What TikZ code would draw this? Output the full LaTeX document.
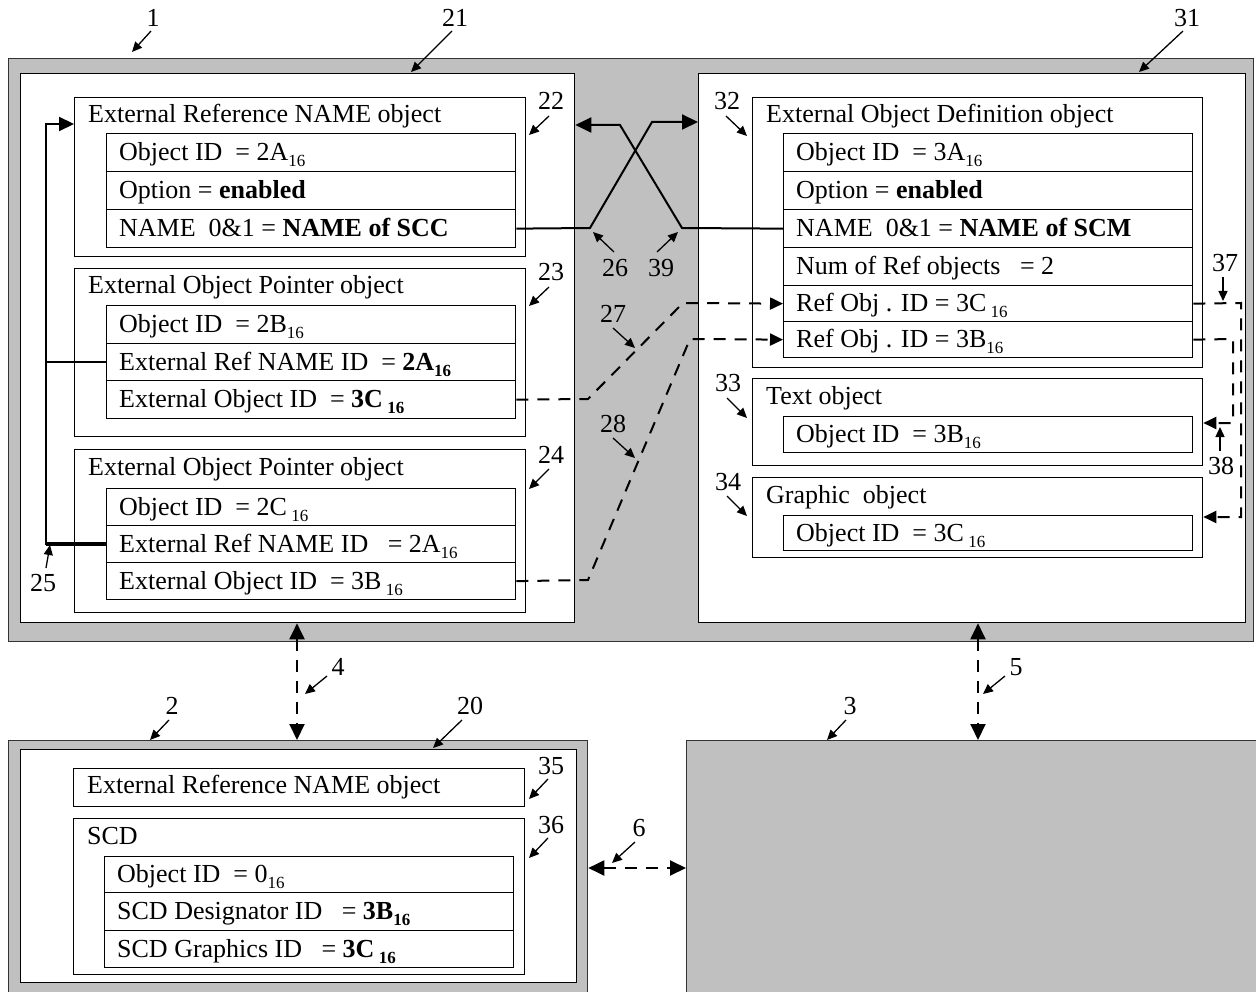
\documentclass[tikz,border=0pt]{standalone}
\usepackage{fontspec}
\setmainfont{Liberation Serif}
\usetikzlibrary{arrows.meta,calc}
\definecolor{gbg}{RGB}{192,192,192}
\newcommand\subs[1]{\raisebox{-6pt}{\fontsize{17}{17}\selectfont #1}}
\newcommand\objbox[6]{%
  \node[box, minimum width=#4pt, minimum height=#5pt] (#1) at (#2,#3) {};
  \node[txt] (#1-t) at ($(#1.north west)+(14,26)$) {#6};}
\newcommand\rowbox[6]{%
  \node[box, minimum width=#4pt, minimum height=#5pt] (#1) at (#2,#3) {};
  \node[txt] (#1-t) at ($(#1.west)+(13,8)$) {#6};}
\begin{document}
\begin{tikzpicture}[x=1pt,y=-1pt,
  box/.style={draw=black, line width=1.3pt, fill=white, inner sep=0pt, anchor=north west},
  gbox/.style={draw=black!80, line width=1.3pt, fill=gbg, inner sep=0pt, anchor=north west},
  txt/.style={inner sep=0pt, anchor=base west, font=\fontsize{26}{30}\selectfont},
  lbl/.style={inner sep=0pt, font=\fontsize{26}{30}\selectfont},
  larr/.style={line width=1.3pt, -{Triangle[length=10pt,width=9pt]}},
  conn/.style={line width=2pt},
  dconn/.style={line width=2pt, dash pattern=on 12pt off 9pt},
  bigtip/.style={-{Triangle[length=16pt,width=15pt]}},
  midtip/.style={-{Triangle[length=13pt,width=12pt]}},
  dbltip/.style={{Triangle[length=16pt,width=15pt]}-{Triangle[length=16pt,width=15pt]}},
]
\useasboundingbox (0,0) rectangle (1256,992);

% gray containers
\node[gbox, minimum width=1245pt, minimum height=583pt] (g1) at (8,58) {};
\node[gbox, minimum width=579pt, minimum height=270pt] (g2) at (8,740) {};
\node[gbox, minimum width=590pt, minimum height=270pt] (g3) at (686,740) {};

% white containers
\node[box, minimum width=554pt, minimum height=549pt] (b21) at (20,73) {};
\node[box, minimum width=547pt, minimum height=549pt] (b31) at (698,73) {};
\node[box, minimum width=556pt, minimum height=233pt] (b20) at (20,749) {};

% box 22
\objbox{b22}{74}{97}{451}{159}{External Reference NAME object}
\rowbox{r22a}{106}{133}{409}{38}{Object ID~ = 2A\subs{16}}
\rowbox{r22b}{106}{171}{409}{38}{Option = \textbf{enabled}}
\rowbox{r22c}{106}{209}{409}{38}{NAME~ 0\&1 = \textbf{NAME of SCC}}

% box 23
\objbox{b23}{74}{268}{451}{168}{External Object Pointer object}
\rowbox{r23a}{106}{305}{409}{38}{Object ID~ = 2B\subs{16}}
\rowbox{r23b}{106}{343}{409}{37}{External Ref NAME ID~ = \textbf{2A\subs{16}}}
\rowbox{r23c}{106}{380}{409}{38}{External Object ID~ = \textbf{3C\,\subs{16}}}

% box 24
\objbox{b24}{74}{449}{451}{163}{External Object Pointer object}
\rowbox{r24a}{106}{488}{409}{37}{Object ID~ = 2C\,\subs{16}}
\rowbox{r24b}{106}{525}{409}{37}{External Ref NAME ID~~ = 2A\subs{16}}
\rowbox{r24c}{106}{562}{409}{37}{External Object ID~ = 3B\,\subs{16}}

% box 32
\objbox{b32}{752}{97}{450}{270}{External Object Definition object}
\rowbox{r32a}{783}{133}{409}{38}{Object ID~ = 3A\subs{16}}
\rowbox{r32b}{783}{171}{409}{38}{Option = \textbf{enabled}}
\rowbox{r32c}{783}{209}{409}{38}{NAME~ 0\&1 = \textbf{NAME of SCM}}
\rowbox{r32d}{783}{247}{409}{38}{Num of Ref objects~~ = 2}
\rowbox{r32e}{783}{285}{409}{36}{Ref Obj . ID = 3C\,\subs{16}}
\rowbox{r32f}{783}{321}{409}{36}{Ref Obj . ID = 3B\subs{16}}

% box 33, 34
\objbox{b33}{752}{378}{450}{87}{Text object}
\rowbox{r33a}{783}{416}{409}{36}{Object ID~ = 3B\subs{16}}
\objbox{b34}{752}{477}{450}{80}{Graphic~ object}
\rowbox{r34a}{783}{515}{409}{35}{Object ID~ = 3C\,\subs{16}}

% box 35, 36
\node[box, minimum width=451pt, minimum height=38pt] (b35) at (73,768) {};
\node[txt] (b35-t) at ($(b35.north west)+(14,25)$) {External Reference NAME object};
\objbox{b36}{73}{818}{451}{156}{SCD}
\rowbox{r36a}{104}{856}{409}{36}{Object ID~ = 0\subs{16}}
\rowbox{r36b}{104}{892}{409}{38}{SCD Designator ID~~ = \textbf{3B\subs{16}}}
\rowbox{r36c}{104}{930}{409}{37}{SCD Graphics ID~~ = \textbf{3C\,\subs{16}}}

% link 25
\coordinate (k25) at (46,0);
\draw[line width=2.2pt, -{Triangle[length=15pt,width=14pt]}] (r24b.west) -- (r24b.west -| k25) -- (k25 |- 0,124) -- (b22.west |- 0,124);
\draw[line width=4pt] (r24b.west) -- (r24b.west -| k25);
\draw[line width=1.5pt] (r23b.west) -- (r23b.west -| k25);

% crossing links 26 / 39
\draw[conn, bigtip] (r22c.east) -- (590,228) -- (652,122) -- (b31.west |- 0,122);
\draw[conn, bigtip] (r32c.west) -- (682,228) -- (620,125) -- (b21.east |- 0,125);

% dashed links 27 / 28
\draw[dconn, midtip] (r23c.east) -- (588,399) -- (683,303) -- (r32e.west);
\draw[dconn, midtip] (r24c.east) -- (588,580) -- (690,339) -- (r32f.west);

% dashed links 37 / 38
\draw[dconn, midtip] (r32e.east) -- (1241,303) -- (1241,517) -- (b34.east |- 0,517);
\draw[dconn, midtip] (r32f.east) -- (1233,339) -- (1233,423) -- (b33.east |- 0,423);

% links 4, 5, 6
\draw[dconn, dbltip] (b21.south -| 297,0) -- (g2.north -| 297,0);
\draw[dconn, dbltip] (b31.south -| 978,0) -- (g3.north -| 978,0);
\draw[dconn, dbltip] (g2.east |- 0,868) -- (g3.west |- 0,868);

% reference labels
\node[lbl] (l1) at (153,18) {1};
\draw[larr] (151,31) -- (132,52);
\node[lbl] (l21) at (455,18) {21};
\draw[larr] (452,31) -- (411,72);
\node[lbl] (l31) at (1187,18) {31};
\draw[larr] (1183,31) -- (1139,72);
\node[lbl] (l22) at (551,101) {22};
\draw[larr] (549,116) -- (529,135);
\node[lbl] (l23) at (551,272) {23};
\draw[larr] (549,287) -- (529,306);
\node[lbl] (l24) at (551,455) {24};
\draw[larr] (549,469) -- (529,489);
\node[lbl] (l32) at (727,101) {32};
\draw[larr] (726,116) -- (747,136);
\node[lbl] (l33) at (728,383) {33};
\draw[larr] (727,398) -- (747,418);
\node[lbl] (l34) at (728,482) {34};
\draw[larr] (727,496) -- (747,516);
\node[lbl] (l27) at (613,314) {27};
\draw[larr] (613,328) -- (635,348);
\node[lbl] (l28) at (613,424) {28};
\draw[larr] (613,438) -- (635,458);
\node[lbl] (l26) at (615,268) {26};
\draw[larr] (614,252) -- (593,232);
\node[lbl] (l39) at (661,268) {39};
\draw[larr] (657,252) -- (678,232);
\node[lbl] (l25) at (43,583) {25};
\draw[larr] (46,568) -- (50,545);
\node[lbl] (l37) at (1225,263) {37};
\draw[larr] (1223,277) -- (1223,301);
\node[lbl] (l38) at (1221,466) {38};
\draw[larr] (1220,451) -- (1220,427);
\node[lbl] (l4) at (338,667) {4};
\draw[larr] (327,676) -- (305,694);
\node[lbl] (l5) at (1016,667) {5};
\draw[larr] (1005,676) -- (983,694);
\node[lbl] (l2) at (172,706) {2};
\draw[larr] (169,720) -- (150,740);
\node[lbl] (l20) at (470,706) {20};
\draw[larr] (462,720) -- (433,748);
\node[lbl] (l3) at (850,706) {3};
\draw[larr] (846,720) -- (827,740);
\node[lbl] (l35) at (551,766) {35};
\draw[larr] (548,779) -- (529,799);
\node[lbl] (l36) at (551,825) {36};
\draw[larr] (548,838) -- (529,858);
\node[lbl] (l6) at (639,828) {6};
\draw[larr] (635,842) -- (612,863);
\end{tikzpicture}
\end{document}
